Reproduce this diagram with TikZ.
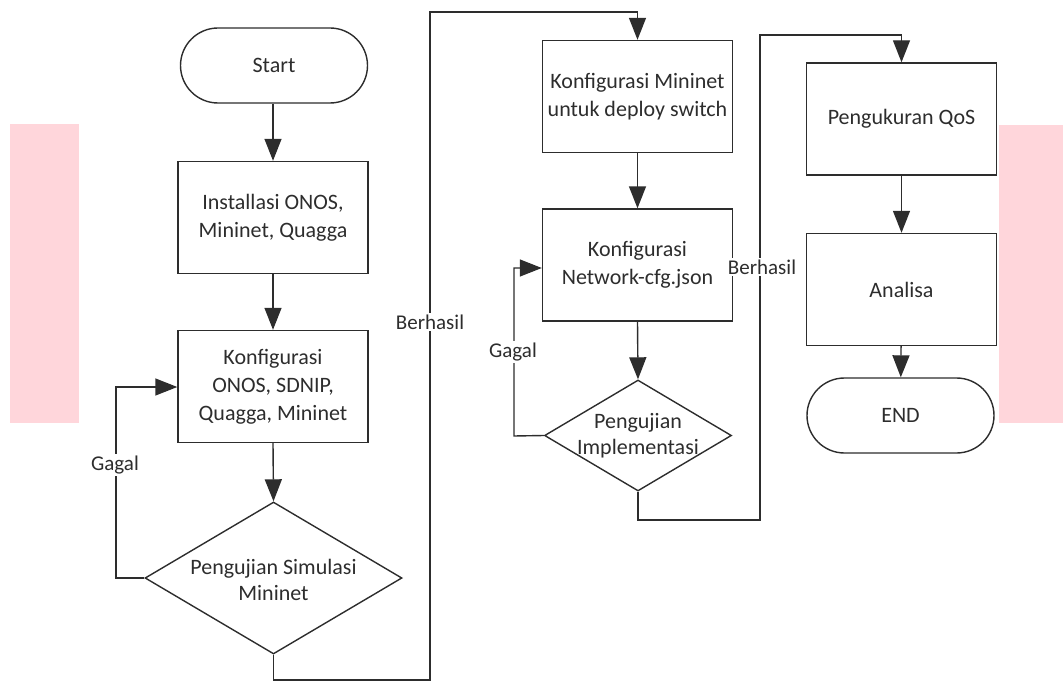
\documentclass[tikz,border=0pt]{standalone}
\usepackage{fontspec}
\setmainfont{Carlito}
\usetikzlibrary{shapes.geometric,shapes.misc,arrows.meta}
\definecolor{pinkbar}{RGB}{255,214,219}
\definecolor{ink}{RGB}{45,45,45}
\begin{document}
\begin{tikzpicture}[x=1pt,y=-1pt,
  line/.style={draw=ink, line width=1.4pt},
  arr/.style={line, -{Triangle[length=22pt,width=17pt]}},
  proc/.style={rectangle, draw=ink, line width=1.4pt, minimum width=190pt, minimum height=112pt, inner sep=0pt, align=center, font=\fontsize{22}{28}\selectfont, text=ink},
  term/.style={rounded rectangle, draw=ink, line width=1.4pt, minimum width=187pt, minimum height=75pt, inner sep=0pt, align=center, font=\fontsize{22}{28}\selectfont, text=ink},
  dia/.style={diamond, draw=ink, line width=1.4pt, inner sep=0pt},
  txt/.style={align=center, inner sep=0pt, font=\fontsize{22}{26}\selectfont, text=ink},
  lbl/.style={fill=white, inner sep=2pt, font=\fontsize{21}{24}\selectfont, text=ink}
]
\useasboundingbox (0,0) rectangle (1063,682);
\fill[pinkbar] (10,124) rectangle (79,423);
\fill[pinkbar] (999,125) rectangle (1063,423);

% column 1
\node[term] (start) at (274,65.5) {Start};
\node[proc] (b1) at (273,217.5) {Installasi ONOS,\\Mininet, Quagga};
\node[proc] (b2) at (273,386.5) {Konfigurasi\\ONOS, SDNIP,\\Quagga, Mininet};
\node[dia, minimum width=257pt, minimum height=152pt] (d1) at (273.5,578) {};
\node[txt] (d1t) at (273.5,580) {Pengujian Simulasi\\Mininet};

% column 2
\node[proc] (b3) at (637.5,96.5) {Konfigurasi Mininet\\untuk deploy switch};
\node[proc] (b4) at (637.5,265) {Konfigurasi\\Network-cfg.json};
\node[dia, minimum width=187pt, minimum height=111pt] (d2) at (638,435.5) {};
\node[txt] (d2t) at (638,436) {Pengujian\\Implementasi};

% column 3
\node[proc] (b5) at (901.5,119) {Pengukuran QoS};
\node[proc] (b6) at (901.5,289.5) {Analisa};
\node[term] (end) at (900.5,415.5) {END};

% coordinates
\coordinate (g1) at (116,578);
\coordinate (g1t) at (116,387);
\coordinate (s1a) at (273.5,680);
\coordinate (s1b) at (430,680);
\coordinate (s1c) at (430,12);
\coordinate (s1d) at (637.5,12);
\coordinate (g2) at (514,436);
\coordinate (g2t) at (514,268);
\coordinate (s2a) at (638,520);
\coordinate (s2b) at (760,520);
\coordinate (s2c) at (760,35);
\coordinate (s2d) at (901.5,35);

% connectors
\draw[arr] (start.south -| b1.north) -- (b1.north);
\draw[arr] (b1) -- (b2);
\draw[arr] (b2.south) -- (d1.north);
\draw[arr] (d1.west) -- (g1) -- (g1t) -- (b2.west |- g1t);
\draw[arr] (d1.south) -- (s1a) -- (s1b) -- (s1c) -- (s1d) -- (b3.north);
\draw[arr] (b3) -- (b4);
\draw[arr] (b4.south) -- (d2.north);
\draw[arr] (d2.west) -- (g2) -- (g2t) -- (b4.west |- g2t);
\draw[arr] (d2.south) -- (s2a) -- (s2b) -- (s2c) -- (s2d) -- (b5.north);
\draw[arr] (b5) -- (b6);
\draw[arr] (b6) -- (end);

% labels
\node[lbl] (l1) at (115,465) {Gagal};
\node[lbl] (l2) at (430,322) {Berhasil};
\node[lbl] (l3) at (513,352) {Gagal};
\node[lbl] (l4) at (762,267) {Berhasil};
\end{tikzpicture}
\end{document}
